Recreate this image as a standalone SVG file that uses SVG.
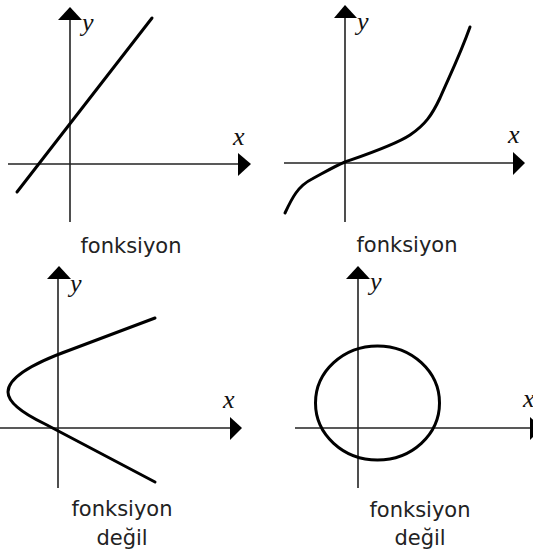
<svg xmlns="http://www.w3.org/2000/svg" width="533" height="556" viewBox="0 0 533 556">
<style>
.ax{stroke:#222;stroke-width:1.6;fill:none}
.ah{fill:#000}
.cv{stroke:#000;stroke-width:3;fill:none;stroke-linejoin:round;stroke-linecap:round}
.lv{font-family:"Liberation Serif",serif;font-style:italic;font-size:26px;fill:#111}
.lb{font-family:"DejaVu Sans",sans-serif;font-size:21px;fill:#222;text-anchor:middle}
</style>
<rect width="533" height="556" fill="#fff"/>
<g id="panel1">
<line class="ax" x1="70" y1="19" x2="70" y2="222"/>
<line class="ax" x1="8" y1="164" x2="239" y2="164"/>
<polygon class="ah" points="58,20 82,20 70,7"/>
<polygon class="ah" points="238,153 238,176 251,164"/>
<line class="cv" x1="17" y1="192" x2="152" y2="18"/>
<text class="lv" x="233" y="145">x</text>
<text class="lv" x="82" y="31">y</text>
<text class="lb" x="131" y="253">fonksiyon</text>
</g>
<g id="panel2">
<line class="ax" x1="345" y1="18" x2="345" y2="222"/>
<line class="ax" x1="284" y1="163" x2="514" y2="163"/>
<polygon class="ah" points="334,18 357,18 345,5"/>
<polygon class="ah" points="513,152 513,175 525,163"/>
<path class="cv" d="M285,213 C292,198 298,186 312,179 C325,172 335,166 345,162 C365,155 395,145 410,135 C425,125 432,115 440,98 C450,75 460,55 470,27"/>
<text class="lv" x="508" y="143">x</text>
<text class="lv" x="357" y="30">y</text>
<text class="lb" x="407" y="252">fonksiyon</text>
</g>
<g id="panel3">
<line class="ax" x1="58" y1="278" x2="58" y2="488"/>
<line class="ax" x1="0" y1="428" x2="231" y2="428"/>
<polygon class="ah" points="47,279 71,279 59,266"/>
<polygon class="ah" points="230,417 230,440 242,428"/>
<path class="cv" d="M155,318 L70,350 C20,368 8,382 8,392 C8,402 20,412 45,424 L155,482"/>
<text class="lv" x="223" y="408">x</text>
<text class="lv" x="70" y="292">y</text>
<text class="lb" x="122" y="516">fonksiyon</text>
<text class="lb" x="122" y="545">değil</text>
</g>
<g id="panel4">
<line class="ax" x1="358" y1="278" x2="358" y2="488"/>
<line class="ax" x1="295" y1="428" x2="531" y2="428"/>
<polygon class="ah" points="346,279 370,279 358,266"/>
<polygon class="ah" points="530,417 530,440 542,428"/>
<ellipse class="cv" cx="377.5" cy="403" rx="62" ry="57"/>
<text class="lv" x="523" y="407">x</text>
<text class="lv" x="370" y="290">y</text>
<text class="lb" x="420" y="517">fonksiyon</text>
<text class="lb" x="420" y="545">değil</text>
</g>
</svg>
